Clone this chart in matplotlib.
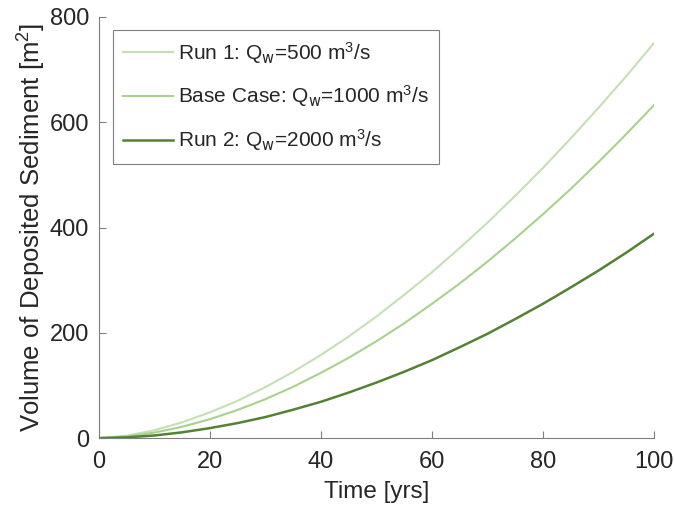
import matplotlib
matplotlib.use("Agg")
import matplotlib.pyplot as plt

# values
years = [0, 5, 10, 15, 20, 25, 30, 35, 40, 45, 50,
         55, 60, 65, 70, 75, 80, 85, 90, 95, 100]
run1 = [0, 4.6, 15, 30, 49, 71, 97, 126, 158, 193, 231,
        272, 315, 361, 409, 460, 513, 569, 627, 687, 750]
base_case = [0, 3.1, 10.5, 21.6, 36, 53.6, 74, 97.5, 124, 152.6, 184,
             218, 255, 293.6, 335, 379, 425, 473, 524, 577, 632]
run2 = [0, 1.4, 5, 11, 19, 28.6, 40, 54, 69, 86.5, 105.5,
        126, 148, 172.6, 198, 226, 255, 286, 318, 352, 388]

labels = ['Run 1: Q$_\\mathrm{w}$=500 m$^3$/s',
          'Base Case: Q$_\\mathrm{w}$=1000 m$^3$/s',
          'Run 2: Q$_\\mathrm{w}$=2000 m$^3$/s']
colors = ['#c5e0b4', '#a9d18e', '#548235']

plt.rcParams['font.family'] = ['Liberation Sans', 'DejaVu Sans']
plt.rcParams['mathtext.default'] = 'regular'

fig = plt.figure(figsize=(6.74, 5.13), dpi=100)
ax = fig.add_axes([0.147, 0.146, 0.823, 0.821])

ax.plot(years, run1, color=colors[0], lw=1.5, label=labels[0])
ax.plot(years, base_case, color=colors[1], lw=1.5, label=labels[1])
ax.plot(years, run2, color=colors[2], lw=1.8, label=labels[2])

ax.set_xlim(0, 100)
ax.set_ylim(0, 800)
ax.set_xticks([0, 20, 40, 60, 80, 100])
ax.set_yticks([0, 200, 400, 600, 800])

grey = '#262626'
for side in ['top', 'right']:
    ax.spines[side].set_visible(False)
for side in ['left', 'bottom']:
    ax.spines[side].set_color('#7f7f7f')
    ax.spines[side].set_linewidth(0.8)
ax.tick_params(direction='in', length=5, width=0.8, color='#7f7f7f',
               labelsize=17, labelcolor=grey)
ax.tick_params(axis='x', pad=9)
ax.tick_params(axis='y', pad=7)

ax.set_xlabel('Time [yrs]', fontsize=17.5, color=grey, labelpad=6)
ax.set_ylabel('Volume of Deposited Sediment [m$^2$]', fontsize=18.5,
              color=grey, labelpad=1)

leg = ax.legend(loc='upper left', bbox_to_anchor=(0.025, 0.97),
                fontsize=15, fancybox=False, framealpha=1,
                edgecolor='#7f7f7f', labelspacing=0.85, handlelength=2.4,
                handletextpad=0.2, borderpad=0.5, borderaxespad=0)
leg.get_frame().set_linewidth(0.8)
for t in leg.get_texts():
    t.set_color(grey)

fig.savefig('out.png', dpi=100)
